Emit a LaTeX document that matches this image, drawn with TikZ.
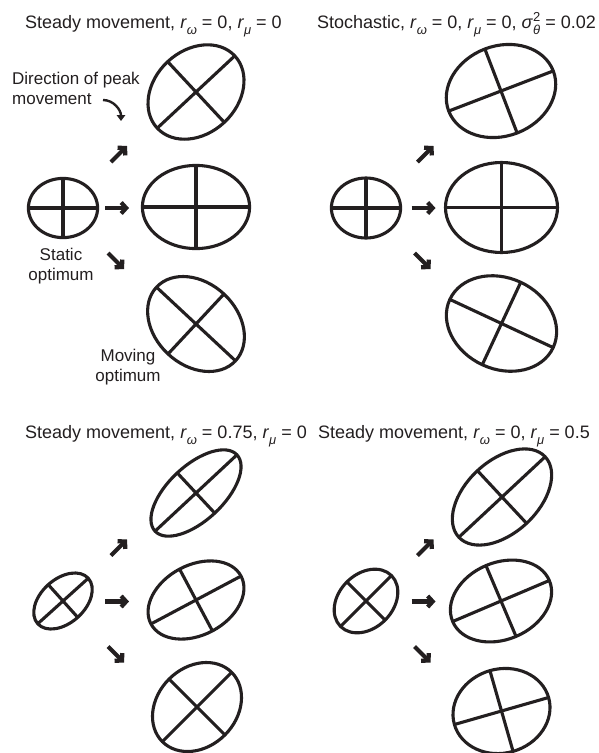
\documentclass[tikz,border=0pt]{standalone}
\usepackage{fontspec}
\setmainfont{Liberation Sans}
\usetikzlibrary{shapes.geometric,arrows.meta}
\definecolor{ink}{RGB}{35,31,32}
\newcommand\sbs[1]{\raisebox{-6.5pt}{\fontsize{13}{13}\selectfont\textit{#1}}}
\newcommand\supsub[2]{\raisebox{-6.5pt}{\fontsize{13}{11}\selectfont\begin{tabular}[b]{@{}l@{}}#1\\\textit{#2}\end{tabular}}}
\newcommand\optim[6]{%
  \node[optell, rotate=#4, minimum width={2*#5*1pt}, minimum height={2*#6*1pt}] (#1) at (#2,-#3) {};
  \draw[axisline] (#1.east) -- (#1.west);
  \draw[axisline] (#1.north) -- (#1.south);
}
\begin{document}
\begin{tikzpicture}[x=1pt,y=1pt,
  optell/.style={draw=ink, ellipse, line width=3.1pt, inner sep=0pt, outer sep=0pt},
  axisline/.style={draw=ink, line width=3.1pt},
  movearrow/.style={draw=ink, line width=4.2pt, -{Straight Barb[length=5pt,width=11pt]}},
  curvearrow/.style={draw=ink, line width=2.4pt, -{Triangle[length=6pt,width=8.5pt]}},
  txt/.style={font=\fontsize{17}{20}\selectfont, text=ink, inner sep=0pt},
  ttl/.style={font=\fontsize{18}{21}\selectfont, text=ink, inner sep=0pt, anchor=base west}]
\fill[white] (0,0) rectangle (598,-753);
\useasboundingbox (0,0) rectangle (598,-753);

% titles
\node[ttl] (t1) at (25,-28) {Steady movement, \textit{r}\sbs{ω} = 0, \textit{r}\sbs{μ} = 0};
\node[ttl] (t2) at (317,-28) {Stochastic, \textit{r}\sbs{ω} = 0, \textit{r}\sbs{μ} = 0, \textit{σ}\supsub{2}{θ} = 0.02};
\node[ttl] (t3) at (25,-438) {Steady movement, \textit{r}\sbs{ω} = 0.75, \textit{r}\sbs{μ} = 0};
\node[ttl] (t4) at (318,-438) {Steady movement, \textit{r}\sbs{ω} = 0, \textit{r}\sbs{μ} = 0.5};

% labels (base anchor = baseline of the last line)
\node[txt, align=left, anchor=base west] (dir) at (12,-104) {Direction of peak\\movement};
\node[txt, align=center, anchor=base] (stat) at (61,-280) {Static\\optimum};
\node[txt, align=center, anchor=base] (mov) at (128,-381) {Moving\\optimum};
\coordinate (ca) at (103,-100);
\coordinate (cb) at (121,-121);
\draw[curvearrow] (ca) to[out=0,in=90] (cb);

% panel 1
\optim{s1}{63}{208}{0}{34.6}{29.6}
\optim{u1}{196}{92}{43}{53}{41.5}
\optim{m1}{196}{207}{0}{53.6}{41.6}
\optim{d1}{196}{324}{-43}{54}{41}
% panel 2
\optim{s2}{366}{208}{0}{34.6}{30}
\optim{u2}{501}{91}{21}{56}{45}
\optim{m2}{501.5}{207.5}{0}{56}{45}
\optim{d2}{501.5}{323.5}{-25}{57}{45.5}
% panel 3
\optim{s3}{63}{601}{42}{34}{22}
\optim{u3}{196}{493}{43}{56}{27.5}
\optim{m3}{196}{600}{28}{51}{35}
\optim{d3}{197}{707}{45}{49}{39.5}
% panel 4
\optim{s4}{366}{601}{45}{36}{27}
\optim{u4}{502}{497}{43}{59}{36}
\optim{m4}{501}{601}{23}{52.5}{38.5}
\optim{d4}{501.5}{711}{16}{49}{42}

% movement arrows
\foreach \p/\dx/\dy in {1/0/0, 2/306.5/0, 3/0/393.5, 4/306.5/393.5}{
  \coordinate (n\p a) at (111+\dx,-162-\dy);
  \coordinate (n\p b) at (127+\dx,-146-\dy);
  \coordinate (r\p a) at (105+\dx,-208-\dy);
  \coordinate (r\p b) at (129+\dx,-208-\dy);
  \coordinate (e\p a) at (108+\dx,-253-\dy);
  \coordinate (e\p b) at (124+\dx,-269-\dy);
  \draw[movearrow] (n\p a) -- (n\p b);
  \draw[movearrow] (r\p a) -- (r\p b);
  \draw[movearrow] (e\p a) -- (e\p b);
}
\end{tikzpicture}
\end{document}
